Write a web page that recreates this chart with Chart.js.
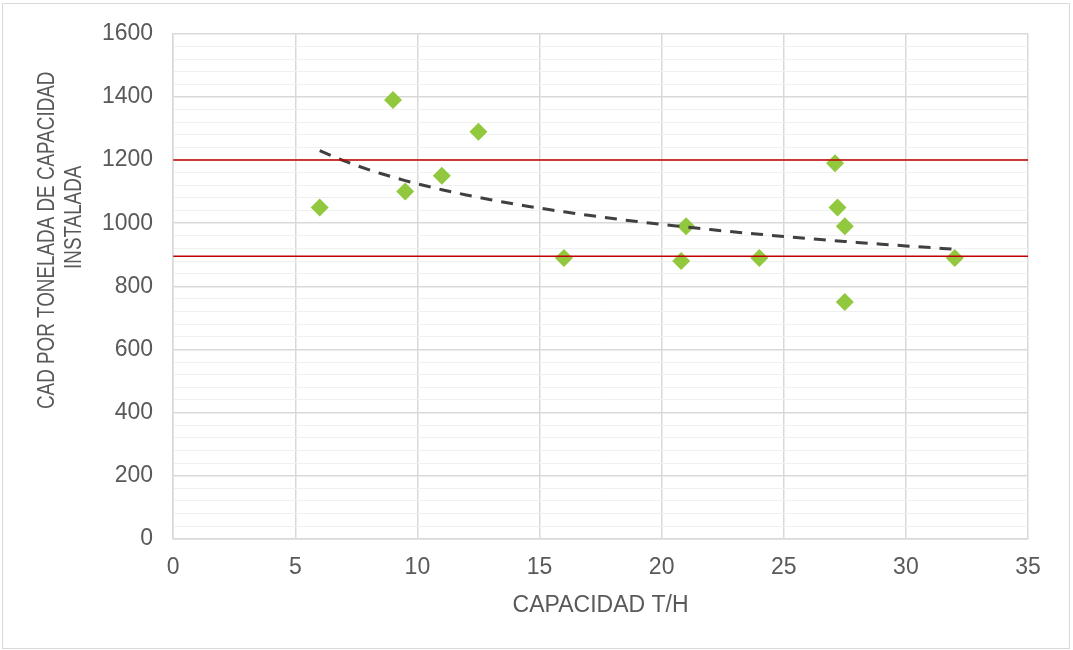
<!DOCTYPE html>
<html>
<head>
<meta charset="utf-8">
<script src="https://cdn.jsdelivr.net/npm/chart.js@4/dist/chart.umd.min.js"></script>
<style>
  body { margin: 0; background: #fff; }
  #wrap { position: relative; width: 1073px; height: 650px; }
  #frame { position: absolute; left: 2px; top: 3px; width: 1066px; height: 644px; border: 1px solid #d9d9d9; pointer-events: none; }
  canvas { position: absolute; left: 0; top: 0; }
</style>
</head>
<body>
<div id="wrap">
  <canvas id="chart" width="1073" height="650"></canvas>
  <div id="frame"></div>
</div>
<script>
// capacity (t/h) and cost per installed tonne
const capacidad = [6, 9, 9.5, 11, 12.5, 16, 20.8, 21, 24, 27.1, 27.2, 27.5, 27.5, 32];
const costo = [1050, 1390, 1100, 1150, 1290, 890, 880, 990, 890, 1190, 1050, 990, 750, 890];

// reference limits (red lines)
const limites = [1200, 895];
const xRange = [0, 35];

const xTicks = [0, 5, 10, 15, 20, 25, 30, 35];
const yTicks = [0, 200, 400, 600, 800, 1000, 1200, 1400, 1600];
const yTitle = ['CAD POR TONELADA DE CAPACIDAD', 'INSTALADA'];

const puntos = capacidad.map((x, i) => ({ x: x, y: costo[i] }));

// power trendline y = a * x^b (least squares on logs), like Excel
const lx = capacidad.map(Math.log);
const ly = costo.map(Math.log);
const mx = lx.reduce((s, v) => s + v, 0) / lx.length;
const my = ly.reduce((s, v) => s + v, 0) / ly.length;
let sxy = 0, sxx = 0;
lx.forEach((v, i) => { sxy += (v - mx) * (ly[i] - my); sxx += (v - mx) * (v - mx); });
const b = sxy / sxx;
const a = Math.exp(my - b * mx);
const xMin = Math.min(...capacidad), xMax = Math.max(...capacidad);
const tendencia = [];
for (let k = 0; k <= 52; k++) {
    const x = xMin + (xMax - xMin) * k / 52;
    tendencia.push({ x: x, y: a * Math.pow(x, b) });
}

const textColor = '#595959';
const family = "'Liberation Sans', Arial, sans-serif";

// y title drawn by hand: Excel squeezes it and puts the two lines slightly off-centre
const yTitlePlugin = {
    id: 'yTitle',
    afterDraw(chart) {
        const { ctx, chartArea } = chart;
        const mid = (chartArea.top + chartArea.bottom) / 2;
        ctx.save();
        ctx.fillStyle = textColor;
        ctx.font = "24px " + family;
        ctx.textAlign = 'center';
        ctx.textBaseline = 'middle';
        // [distance left of plot, vertical offset from plot middle]
        const spots = [[125.5, -46], [99, -69]];
        yTitle.forEach((line, i) => {
            ctx.save();
            ctx.translate(chartArea.left - spots[i][0], mid + spots[i][1]);
            ctx.rotate(-Math.PI / 2);
            ctx.scale(0.785, 1);
            ctx.fillText(line, 0, 0);
            ctx.restore();
        });
        ctx.restore();
    },
};

const limitSets = limites.map(v => ({
    data: xRange.map(x => ({ x: x, y: v })),
    showLine: true,
    borderColor: '#c00000',
    borderWidth: 1.5,
    pointRadius: 0,
    order: 0,
}));

new Chart(document.getElementById('chart'), {
    type: 'scatter',
    plugins: [yTitlePlugin],
    data: {
        datasets: [
            ...limitSets,
            {
                data: tendencia,
                showLine: true,
                borderColor: '#404040',
                borderWidth: 3,
                borderDash: [12, 9],
                pointRadius: 0,
                order: 1,
            },
            {
                data: puntos,
                pointStyle: 'rectRot',
                pointRadius: 9,
                pointBackgroundColor: '#92c83e',
                pointBorderWidth: 0,
                order: 2,
            },
        ],
    },
    options: {
        responsive: false,
        animation: false,
        layout: { padding: { left: 82, top: 33, right: 45, bottom: 31 } },
        plugins: {
            legend: { display: false },
            tooltip: { enabled: false },
        },
        scales: {
            x: {
                type: 'linear',
                min: 0,
                max: 35,
                afterBuildTicks: (scale) => { scale.ticks = xTicks.map(v => ({ value: v })); },
                grid: { color: '#d9d9d9', lineWidth: 1.5, drawTicks: false },
                border: { color: '#d9d9d9', width: 1.5 },
                ticks: { color: textColor, padding: 15, font: { family: family, size: 23 } },
                title: {
                    display: true,
                    text: 'CAPACIDAD T/H',
                    color: textColor,
                    font: { family: family, size: 23 },
                    padding: { top: -5, bottom: 0 },
                },
            },
            y: {
                type: 'linear',
                min: 0,
                max: 1600,
                ticks: {
                    stepSize: 40,
                    autoSkip: false,
                    color: textColor,
                    padding: 20,
                    font: { family: family, size: 23 },
                    callback: (v) => yTicks.includes(v) ? v : '',
                },
                grid: {
                    drawTicks: false,
                    color: (ctx) => yTicks.includes(ctx.tick.value) ? '#d9d9d9' : '#f0f0f0',
                    lineWidth: (ctx) => yTicks.includes(ctx.tick.value) ? 1.5 : 1,
                },
                border: { color: '#d9d9d9', width: 1.5 },
            },
        },
    },
});
</script>
</body>
</html>
